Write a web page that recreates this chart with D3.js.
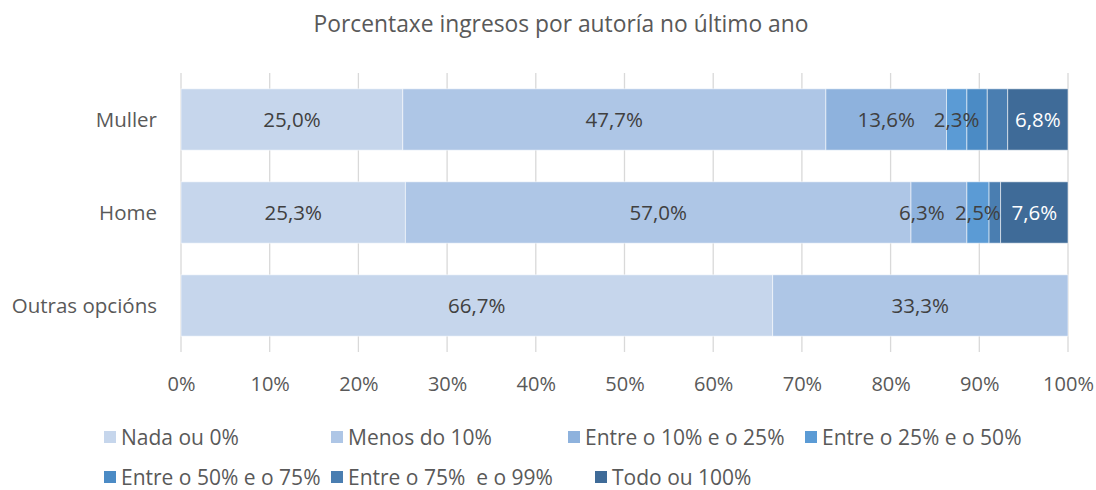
<!DOCTYPE html>
<html lang="gl">
<head>
	<meta charset="UTF-8">
	<title>Porcentaxe ingresos</title>
	<script src="https://cdn.jsdelivr.net/npm/d3@7/dist/d3.min.js"></script>
	<style>
		body { margin: 0; background: #fff; }
		text { font-family: "Open Sans", sans-serif; fill: #595959; }
		.grid line { stroke: #d9d9d9; stroke-width: 1.3; }
	</style>
</head>
<body>
<script type="text/javascript">

	var categories = ['Muller', 'Home', 'Outras opcións'];
	var seriesNames = ['Nada ou 0%', 'Menos do 10%', 'Entre o 10% e o 25%', 'Entre o 25% e o 50%',
		'Entre o 50% e o 75%', 'Entre o 75%  e o 99%', 'Todo ou 100%'];
	var seriesColors = ['#c6d6ec', '#aec6e6', '#8eb2dd', '#5b9bd5', '#4b8bc5', '#4a7eb1', '#3f6b98'];
	// valores en porcentaxe, un por categoría
	var nada = [25.0, 25.3, 66.7];
	var menos10 = [47.7, 57.0, 33.3];
	var de10a25 = [13.6, 6.3, 0];
	var de25a50 = [2.3, 2.5, 0];
	var de50a75 = [2.3, 0, 0];
	var de75a99 = [2.3, 1.3, 0];
	var todo = [6.8, 7.6, 0];
	var xTicks = [0, 10, 20, 30, 40, 50, 60, 70, 80, 90, 100];

	var values = [nada, menos10, de10a25, de25a50, de50a75, de75a99, todo];
	// series sen etiquetas de datos no orixinal
	var noLabel = [4, 5];
	var labelNudge = {'Home|2': -17};

	var W = 1096, H = 490;
	var plot = {left: 181, right: 1068, top: 73, bottom: 352};

	var svg = d3.select('body').append('svg')
		.attr('width', W)
		.attr('height', H);

	var x = d3.scaleLinear().domain([0, 100]).range([plot.left, plot.right]);
	var y = d3.scaleBand().domain(categories).range([plot.top, plot.bottom]).paddingInner(0.34).paddingOuter(0.17);

	svg.append('text')
		.attr('x', 561)
		.attr('y', 32)
		.attr('text-anchor', 'middle')
		.style('font-size', '22.8px')
		.text('Porcentaxe ingresos por autoría no último ano');

	svg.append('g').attr('class', 'grid')
		.selectAll('line')
		.data(xTicks)
		.enter().append('line')
		.attr('x1', function (d) { return x(d); })
		.attr('x2', function (d) { return x(d); })
		.attr('y1', plot.top)
		.attr('y2', plot.bottom);

	// segmentos apilados
	var rows = categories.map(function (c, i) {
		var acc = 0;
		return values.map(function (s, k) {
			var seg = {cat: c, k: k, v: s[i], x0: acc, x1: acc + s[i]};
			acc += s[i];
			return seg;
		});
	});
	var segs = d3.merge(rows).filter(function (d) { return d.v > 0; });

	svg.append('g').selectAll('rect')
		.data(segs)
		.enter().append('rect')
		.attr('x', function (d) { return x(d.x0); })
		.attr('width', function (d) { return x(d.x1) - x(d.x0); })
		.attr('y', function (d) { return y(d.cat); })
		.attr('height', y.bandwidth())
		.attr('fill', function (d) { return seriesColors[d.k]; })
		.attr('stroke', 'rgba(255,255,255,0.55)')
		.attr('stroke-width', 1);

	svg.append('g').selectAll('text')
		.data(segs.filter(function (d) { return noLabel.indexOf(d.k) < 0; }))
		.enter().append('text')
		.attr('x', function (d) { return (x(d.x0) + x(d.x1)) / 2 + (labelNudge[d.cat + '|' + d.k] || 0); })
		.attr('y', function (d) { return y(d.cat) + y.bandwidth() / 2; })
		.attr('dy', '0.36em')
		.attr('text-anchor', 'middle')
		.style('font-size', '20.5px')
		.style('fill', function (d) { return d.k === 6 ? '#ffffff' : '#404040'; })
		.text(function (d) { return d.v.toFixed(1).replace('.', ',') + '%'; });

	// eixo de categorías
	svg.append('g').selectAll('text')
		.data(categories)
		.enter().append('text')
		.attr('x', 157)
		.attr('y', function (d) { return y(d) + y.bandwidth() / 2; })
		.attr('dy', '0.36em')
		.attr('text-anchor', 'end')
		.style('font-size', '20.5px')
		.text(function (d) { return d; });

	// eixo x
	var axisX = svg.append('g')
		.attr('transform', 'translate(0,391)')
		.call(d3.axisBottom(x).tickValues(xTicks).tickSize(0).tickPadding(0).tickFormat(function (d) { return d + '%'; }));
	axisX.select('.domain').remove();
	axisX.selectAll('text').attr('y', 0).attr('dy', 0)
		.style('font-size', '20px').style('fill', '#595959')
		.style('font-family', '"Open Sans", sans-serif');

	// lenda
	var legendPos = [[104, 437], [331, 437], [568, 437], [805, 437], [104, 477], [331, 477], [595, 477]];
	var leg = svg.append('g').selectAll('g')
		.data(seriesNames)
		.enter().append('g')
		.attr('transform', function (d, i) { return 'translate(' + legendPos[i][0] + ',' + legendPos[i][1] + ')'; });
	leg.append('rect')
		.attr('x', 0).attr('y', -6)
		.attr('width', 12).attr('height', 12)
		.attr('fill', function (d, i) { return seriesColors[i]; });
	leg.append('text')
		.attr('x', 17)
		.attr('dy', '0.36em')
		.style('font-size', '21px')
		.style('white-space', 'pre')
		.text(function (d) { return d; });

</script>
</body>
</html>
